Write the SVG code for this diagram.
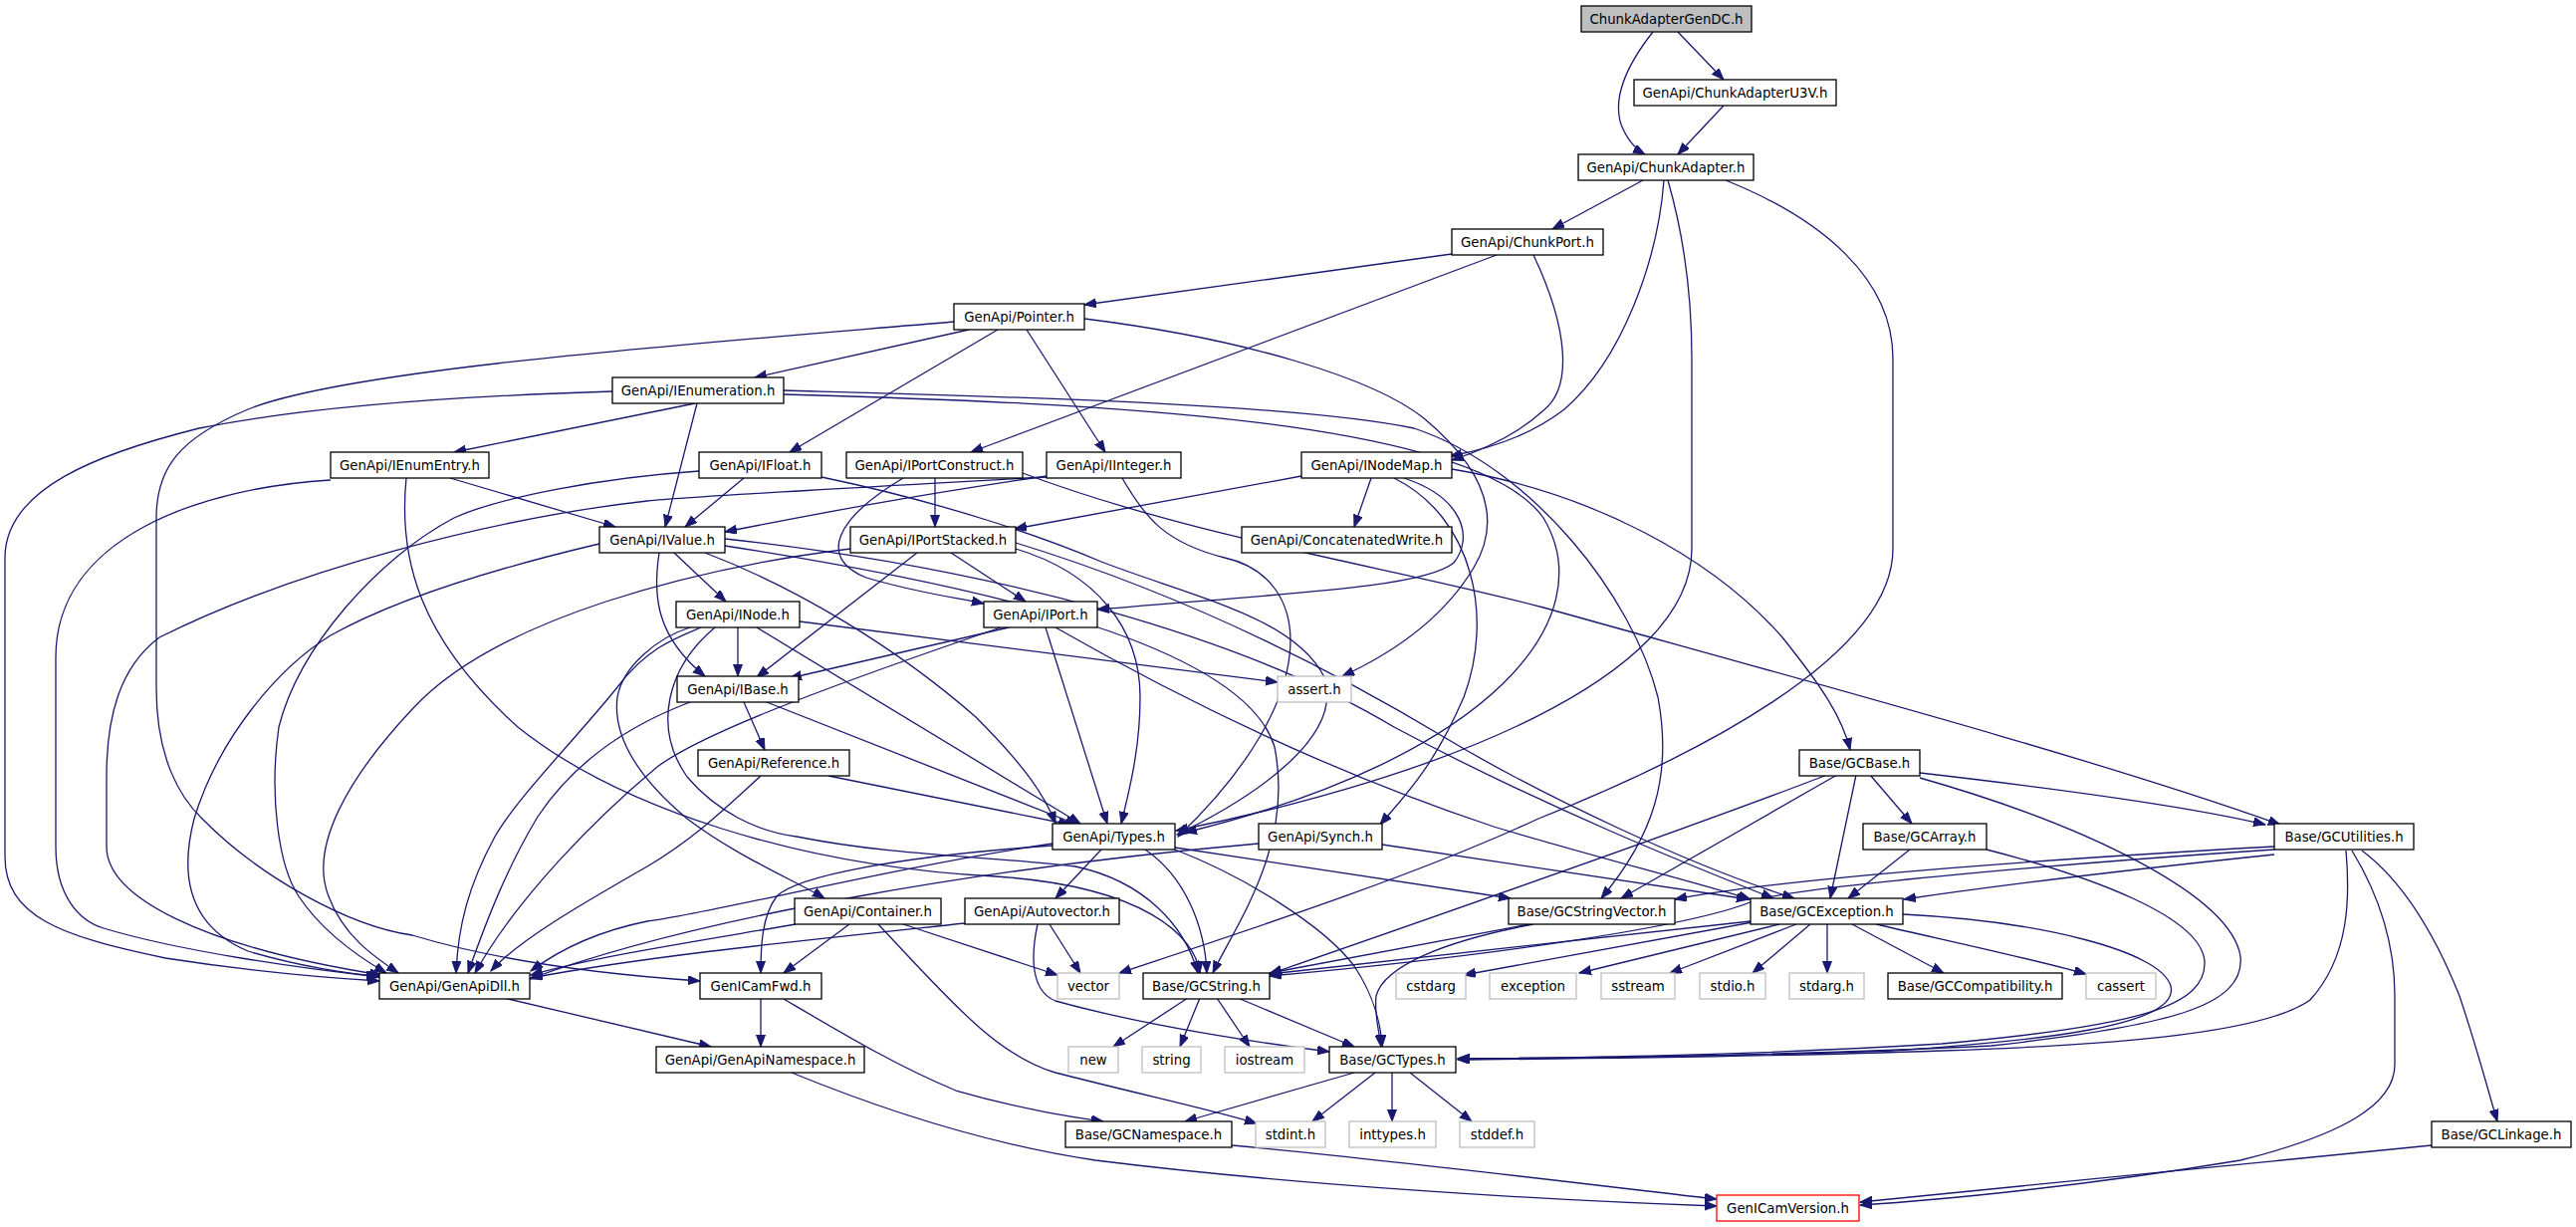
<svg xmlns="http://www.w3.org/2000/svg" width="2587" height="1232" viewBox="0 0 2587 1232">
<style>
rect{fill:#fff;stroke:#000;stroke-width:1.3}
.g rect{stroke:#bfbfbf}
.r rect{stroke:#f00}
.root rect{fill:#bfbfbf}
text{font-family:"DejaVu Sans","Liberation Sans",sans-serif;font-size:13.3px;text-anchor:middle;fill:#000}
#edges path{fill:none;stroke:#191970;stroke-width:1.3;marker-end:url(#a)}
</style>
<defs>
<marker id="a" markerUnits="userSpaceOnUse" markerWidth="13" markerHeight="10" refX="12" refY="4.5" orient="auto"><path d="M0,0 L12,4.5 L0,9 z" fill="#191970" stroke="#191970"/></marker>
</defs>
<rect x="0" y="0" width="2587" height="1232" style="stroke:none;fill:#fff"/>
<g id="edges">
<path d="M1660,32 C1630,70 1620,100 1628,125 C1634,140 1643,150 1652,155"/>
<path d="M1685,32 L1731,80"/>
<path d="M1731,106 L1685,155"/>
<path d="M1650,181 L1559,230"/>
<path d="M1671,181 C1665,260 1630,360 1571,411 C1540,435 1500,450 1456,458"/>
<path d="M1675,181 C1692,240 1699,300 1699,360 L1699,551 C1699,680 1450,780 1181,834"/>
<path d="M1733,181 C1830,220 1901,280 1901,360 L1901,551 C1901,660 1700,760 1545,822 C1420,880 1250,935 1124,977"/>
<path d="M1458,255 L1089,306"/>
<path d="M1503,256 L975,454"/>
<path d="M1540,256 C1575,330 1580,390 1549,413 C1525,435 1495,450 1458,462"/>
<path d="M958,323 C700,345 350,370 249,411 C180,440 157,470 157,520 L157,691 C157,760 180,800 203,822 C260,880 350,930 414,939 C500,965 600,978 703,985"/>
<path d="M973,331 L758,379"/>
<path d="M1002,331 L793,454"/>
<path d="M1031,331 L1110,454"/>
<path d="M1089,320 C1250,340 1380,380 1430,420 C1490,470 1510,520 1480,570 C1450,620 1400,655 1348,679"/>
<path d="M615,393 C450,398 300,410 200,430 C100,455 5,490 5,560 L5,860 C5,920 60,940 166,962 C250,975 330,982 381,985"/>
<path d="M698,405 L456,454"/>
<path d="M700,405 L668,529"/>
<path d="M787,396 C1100,405 1480,420 1550,520 C1610,620 1500,760 1190,836"/>
<path d="M787,392 C1000,398 1300,405 1420,430 C1540,470 1640,600 1665,700 C1680,780 1660,840 1608,902"/>
<path d="M332,482 C200,490 56,540 56,660 L56,850 C56,900 80,925 104,932 C180,955 300,972 381,981"/>
<path d="M452,480 L618,529"/>
<path d="M408,480 C400,560 420,640 520,730 C620,810 800,870 1000,880 C1150,890 1200,940 1205,977"/>
<path d="M702,473 C600,480 500,500 456,520 C380,560 300,650 280,730 C270,800 280,870 300,900 C320,930 350,955 388,977"/>
<path d="M747,480 L688,529"/>
<path d="M825,479 C950,505 1050,540 1106,564 C1200,600 1300,620 1330,680 C1350,740 1260,800 1182,838"/>
<path d="M939,480 L939,529"/>
<path d="M907,480 C840,520 820,560 870,580 C920,595 960,600 988,606"/>
<path d="M1027,475 C1200,540 1400,570 1550,610 C1800,680 2100,760 2290,828"/>
<path d="M1051,479 C850,490 700,498 650,503 C500,520 300,570 160,640 C120,670 107,720 107,780 L107,850 C107,900 200,950 383,979"/>
<path d="M1051,478 C900,500 800,520 728,534"/>
<path d="M1127,480 C1150,520 1170,545 1230,560 C1320,580 1330,700 1183,840"/>
<path d="M1377,480 L1360,529"/>
<path d="M1458,471 C1600,495 1720,560 1790,640 C1830,690 1850,720 1858,753"/>
<path d="M1307,478 L1019,531"/>
<path d="M1410,480 C1470,500 1480,540 1460,565 C1430,590 1300,595 1102,612"/>
<path d="M1400,480 C1480,520 1500,620 1470,700 C1440,770 1410,800 1386,828"/>
<path d="M677,555 L729,604"/>
<path d="M662,555 C655,600 660,640 708,679"/>
<path d="M602,546 C500,570 400,600 332,638 C280,670 220,740 195,822 C180,880 190,930 249,955 C300,970 350,978 380,980"/>
<path d="M708,555 C800,590 900,650 980,720 C1030,770 1050,800 1060,827"/>
<path d="M728,541 C1000,570 1250,640 1400,730 C1550,810 1700,870 1781,902"/>
<path d="M728,548 C1000,590 1250,650 1280,750 C1300,850 1240,930 1218,977"/>
<path d="M955,555 L1030,604"/>
<path d="M921,555 L760,680"/>
<path d="M854,551 C700,570 500,620 415,711 C350,780 310,850 330,900 C345,940 375,960 400,977"/>
<path d="M1020,551 C1100,575 1145,630 1145,700 C1145,750 1135,790 1126,827"/>
<path d="M1020,545 C1200,600 1350,680 1450,740 C1550,800 1700,870 1802,902"/>
<path d="M741,630 L741,679"/>
<path d="M760,630 L1085,827"/>
<path d="M803,624 L1283,685"/>
<path d="M704,630 C680,640 650,650 620,690 C580,740 520,800 497,840 C470,890 460,930 458,977"/>
<path d="M693,630 C660,640 625,670 620,700 C615,740 640,780 690,822 C740,860 800,885 828,902"/>
<path d="M718,630 C670,670 655,730 690,780 C720,815 760,835 800,840 C900,860 1000,860 1080,870 C1150,885 1190,930 1203,977"/>
<path d="M1013,630 L793,681"/>
<path d="M1005,630 C800,700 700,740 660,770 C600,820 520,900 477,977"/>
<path d="M1050,630 L1112,827"/>
<path d="M1060,630 C1200,710 1350,780 1500,830 C1600,860 1700,885 1758,903"/>
<path d="M747,705 L768,753"/>
<path d="M770,705 L1082,828"/>
<path d="M693,705 C640,725 580,760 540,820 C510,870 490,920 470,977"/>
<path d="M832,779 L1075,828"/>
<path d="M764,779 C730,810 700,840 650,870 C580,910 520,945 493,975"/>
<path d="M1835,778 C1700,830 1500,900 1275,978"/>
<path d="M1845,778 L1628,902"/>
<path d="M1864,778 L1838,902"/>
<path d="M1878,778 L1920,827"/>
<path d="M1928,776 C2050,790 2200,810 2275,828"/>
<path d="M1928,781 C2100,830 2240,900 2250,960 C2255,1010 2180,1030 2000,1050 C1800,1060 1600,1062 1464,1063"/>
<path d="M1057,847 C900,870 700,920 650,925 C600,935 560,955 533,975"/>
<path d="M1057,849 C900,860 800,880 780,900 C765,920 764,950 764,977"/>
<path d="M1106,853 L1060,902"/>
<path d="M1180,851 L1517,902"/>
<path d="M1180,853 C1250,880 1330,930 1360,970 C1380,1000 1387,1030 1388,1051"/>
<path d="M1150,853 C1190,880 1210,930 1212,977"/>
<path d="M1388,848 L1756,903"/>
<path d="M1264,847 C1000,870 700,920 532,983"/>
<path d="M1995,853 C2100,880 2210,920 2214,965 C2216,1010 2150,1030 1950,1048 C1750,1060 1580,1062 1464,1063"/>
<path d="M1918,853 L1856,902"/>
<path d="M2284,850 C2100,860 1800,880 1682,903"/>
<path d="M2284,853 C2100,865 1800,890 1760,905 C1700,930 1500,960 1275,980"/>
<path d="M2284,858 C2150,872 2000,890 1912,903"/>
<path d="M2356,854 C2360,900 2360,960 2320,1004 C2270,1040 2100,1050 1950,1055 C1750,1062 1580,1063 1464,1064"/>
<path d="M2372,854 C2420,890 2450,950 2470,1000 C2490,1060 2500,1100 2508,1126"/>
<path d="M2362,854 C2390,900 2405,950 2405,1000 L2405,1069 C2405,1110 2350,1140 2250,1165 C2100,1190 1950,1205 1868,1210"/>
<path d="M799,928 C700,945 600,960 533,979"/>
<path d="M853,928 L787,977"/>
<path d="M907,928 L1062,979"/>
<path d="M882,928 C950,1000 1000,1060 1060,1077 C1150,1100 1220,1115 1262,1128"/>
<path d="M969,927 C800,945 650,960 533,982"/>
<path d="M1054,928 L1085,977"/>
<path d="M1042,928 C1035,960 1035,995 1060,1005 C1150,1030 1250,1045 1335,1056"/>
<path d="M1540,928 C1450,945 1390,970 1382,1000 C1380,1020 1385,1035 1387,1051"/>
<path d="M1536,928 L1275,977"/>
<path d="M1911,918 C2050,925 2170,955 2180,990 C2190,1030 2050,1045 1900,1055 C1700,1062 1560,1063 1464,1063"/>
<path d="M1884,928 C1980,950 2050,965 2095,978"/>
<path d="M1860,928 L1952,977"/>
<path d="M1835,928 L1835,977"/>
<path d="M1818,928 L1760,977"/>
<path d="M1804,928 L1677,977"/>
<path d="M1787,928 L1586,977"/>
<path d="M1760,926 L1470,979"/>
<path d="M1758,925 L1275,978"/>
<path d="M506,1002 L714,1051"/>
<path d="M764,1003 L764,1051"/>
<path d="M787,1003 C850,1040 900,1070 960,1095 C1030,1115 1080,1122 1108,1126"/>
<path d="M1193,1002 L1118,1051"/>
<path d="M1205,1002 L1185,1051"/>
<path d="M1222,1002 L1255,1051"/>
<path d="M1243,1002 L1360,1051"/>
<path d="M795,1077 C900,1120 1000,1150 1100,1165 C1300,1190 1550,1205 1724,1211"/>
<path d="M1360,1077 L1190,1126"/>
<path d="M1381,1077 L1318,1126"/>
<path d="M1398,1077 L1398,1126"/>
<path d="M1416,1077 L1478,1126"/>
<path d="M1237,1150 C1400,1165 1600,1190 1724,1204"/>
<path d="M2442,1150 L1868,1207"/>
</g>
<g id="n_gendc" class="root"><rect x="1588" y="6" width="171" height="26"/><text x="1673.5" y="23.7">ChunkAdapterGenDC.h</text></g>
<g id="n_u3v"><rect x="1641" y="80" width="203" height="26"/><text x="1742.5" y="97.7">GenApi/ChunkAdapterU3V.h</text></g>
<g id="n_ca"><rect x="1585" y="155" width="176" height="26"/><text x="1673" y="172.7">GenApi/ChunkAdapter.h</text></g>
<g id="n_cp"><rect x="1458" y="230" width="152" height="26"/><text x="1534" y="247.7">GenApi/ChunkPort.h</text></g>
<g id="n_ptr"><rect x="958" y="305" width="131" height="26"/><text x="1023.5" y="322.7">GenApi/Pointer.h</text></g>
<g id="n_ienum"><rect x="615" y="379" width="172" height="26"/><text x="701" y="396.7">GenApi/IEnumeration.h</text></g>
<g id="n_ienumentry"><rect x="332" y="454" width="159" height="26"/><text x="411.5" y="471.7">GenApi/IEnumEntry.h</text></g>
<g id="n_ifloat"><rect x="702" y="454" width="123" height="26"/><text x="763.5" y="471.7">GenApi/IFloat.h</text></g>
<g id="n_iportc"><rect x="850" y="454" width="177" height="26"/><text x="938.5" y="471.7">GenApi/IPortConstruct.h</text></g>
<g id="n_iint"><rect x="1051" y="454" width="135" height="26"/><text x="1118.5" y="471.7">GenApi/IInteger.h</text></g>
<g id="n_inodemap"><rect x="1307" y="454" width="151" height="26"/><text x="1382.5" y="471.7">GenApi/INodeMap.h</text></g>
<g id="n_ivalue"><rect x="602" y="529" width="126" height="26"/><text x="665" y="546.7">GenApi/IValue.h</text></g>
<g id="n_iports"><rect x="854" y="529" width="166" height="26"/><text x="937" y="546.7">GenApi/IPortStacked.h</text></g>
<g id="n_concat"><rect x="1247" y="529" width="211" height="26"/><text x="1352.5" y="546.7">GenApi/ConcatenatedWrite.h</text></g>
<g id="n_inode"><rect x="679" y="604" width="124" height="26"/><text x="741" y="621.7">GenApi/INode.h</text></g>
<g id="n_iport"><rect x="988" y="604" width="114" height="26"/><text x="1045" y="621.7">GenApi/IPort.h</text></g>
<g id="n_ibase"><rect x="680" y="679" width="122" height="26"/><text x="741" y="696.7">GenApi/IBase.h</text></g>
<g id="n_assert" class="g"><rect x="1283" y="679" width="74" height="26"/><text x="1320" y="696.7">assert.h</text></g>
<g id="n_ref"><rect x="701" y="753" width="152" height="26"/><text x="777" y="770.7">GenApi/Reference.h</text></g>
<g id="n_gcbase"><rect x="1807" y="753" width="121" height="26"/><text x="1867.5" y="770.7">Base/GCBase.h</text></g>
<g id="n_types"><rect x="1057" y="827" width="123" height="26"/><text x="1118.5" y="844.7">GenApi/Types.h</text></g>
<g id="n_synch"><rect x="1264" y="827" width="124" height="26"/><text x="1326" y="844.7">GenApi/Synch.h</text></g>
<g id="n_gcarray"><rect x="1871" y="827" width="124" height="26"/><text x="1933" y="844.7">Base/GCArray.h</text></g>
<g id="n_gcutil"><rect x="2284" y="827" width="140" height="26"/><text x="2354" y="844.7">Base/GCUtilities.h</text></g>
<g id="n_container"><rect x="798" y="902" width="147" height="26"/><text x="871.5" y="919.7">GenApi/Container.h</text></g>
<g id="n_autovec"><rect x="969" y="902" width="155" height="26"/><text x="1046.5" y="919.7">GenApi/Autovector.h</text></g>
<g id="n_gcsv"><rect x="1515" y="902" width="167" height="26"/><text x="1598.5" y="919.7">Base/GCStringVector.h</text></g>
<g id="n_gcexc"><rect x="1758" y="902" width="153" height="26"/><text x="1834.5" y="919.7">Base/GCException.h</text></g>
<g id="n_dll"><rect x="381" y="977" width="151" height="26"/><text x="456.5" y="994.7">GenApi/GenApiDll.h</text></g>
<g id="n_fwd"><rect x="703" y="977" width="122" height="26"/><text x="764" y="994.7">GenICamFwd.h</text></g>
<g id="n_vector" class="g"><rect x="1062" y="977" width="62" height="26"/><text x="1093" y="994.7">vector</text></g>
<g id="n_gcstring"><rect x="1148" y="977" width="127" height="26"/><text x="1211.5" y="994.7">Base/GCString.h</text></g>
<g id="n_cstdarg" class="g"><rect x="1402" y="977" width="70" height="26"/><text x="1437" y="994.7">cstdarg</text></g>
<g id="n_exception" class="g"><rect x="1496" y="977" width="87" height="26"/><text x="1539.5" y="994.7">exception</text></g>
<g id="n_sstream" class="g"><rect x="1608" y="977" width="74" height="26"/><text x="1645" y="994.7">sstream</text></g>
<g id="n_stdio" class="g"><rect x="1707" y="977" width="66" height="26"/><text x="1740" y="994.7">stdio.h</text></g>
<g id="n_stdarg" class="g"><rect x="1797" y="977" width="75" height="26"/><text x="1834.5" y="994.7">stdarg.h</text></g>
<g id="n_gccompat"><rect x="1896" y="977" width="175" height="26"/><text x="1983.5" y="994.7">Base/GCCompatibility.h</text></g>
<g id="n_cassert" class="g"><rect x="2095" y="977" width="70" height="26"/><text x="2130" y="994.7">cassert</text></g>
<g id="n_gans"><rect x="659" y="1051" width="209" height="26"/><text x="763.5" y="1068.7">GenApi/GenApiNamespace.h</text></g>
<g id="n_new" class="g"><rect x="1073" y="1051" width="50" height="26"/><text x="1098" y="1068.7">new</text></g>
<g id="n_string" class="g"><rect x="1147" y="1051" width="59" height="26"/><text x="1176.5" y="1068.7">string</text></g>
<g id="n_iostream" class="g"><rect x="1230" y="1051" width="80" height="26"/><text x="1270" y="1068.7">iostream</text></g>
<g id="n_gctypes"><rect x="1335" y="1051" width="127" height="26"/><text x="1398.5" y="1068.7">Base/GCTypes.h</text></g>
<g id="n_gcns"><rect x="1070" y="1126" width="167" height="26"/><text x="1153.5" y="1143.7">Base/GCNamespace.h</text></g>
<g id="n_stdint" class="g"><rect x="1261" y="1126" width="70" height="26"/><text x="1296" y="1143.7">stdint.h</text></g>
<g id="n_inttypes" class="g"><rect x="1355" y="1126" width="87" height="26"/><text x="1398.5" y="1143.7">inttypes.h</text></g>
<g id="n_stddef" class="g"><rect x="1466" y="1126" width="75" height="26"/><text x="1503.5" y="1143.7">stddef.h</text></g>
<g id="n_gclinkage"><rect x="2442" y="1126" width="140" height="26"/><text x="2512" y="1143.7">Base/GCLinkage.h</text></g>
<g id="n_version" class="r"><rect x="1724" y="1200" width="143" height="26"/><text x="1795.5" y="1217.7">GenICamVersion.h</text></g>
</svg>
